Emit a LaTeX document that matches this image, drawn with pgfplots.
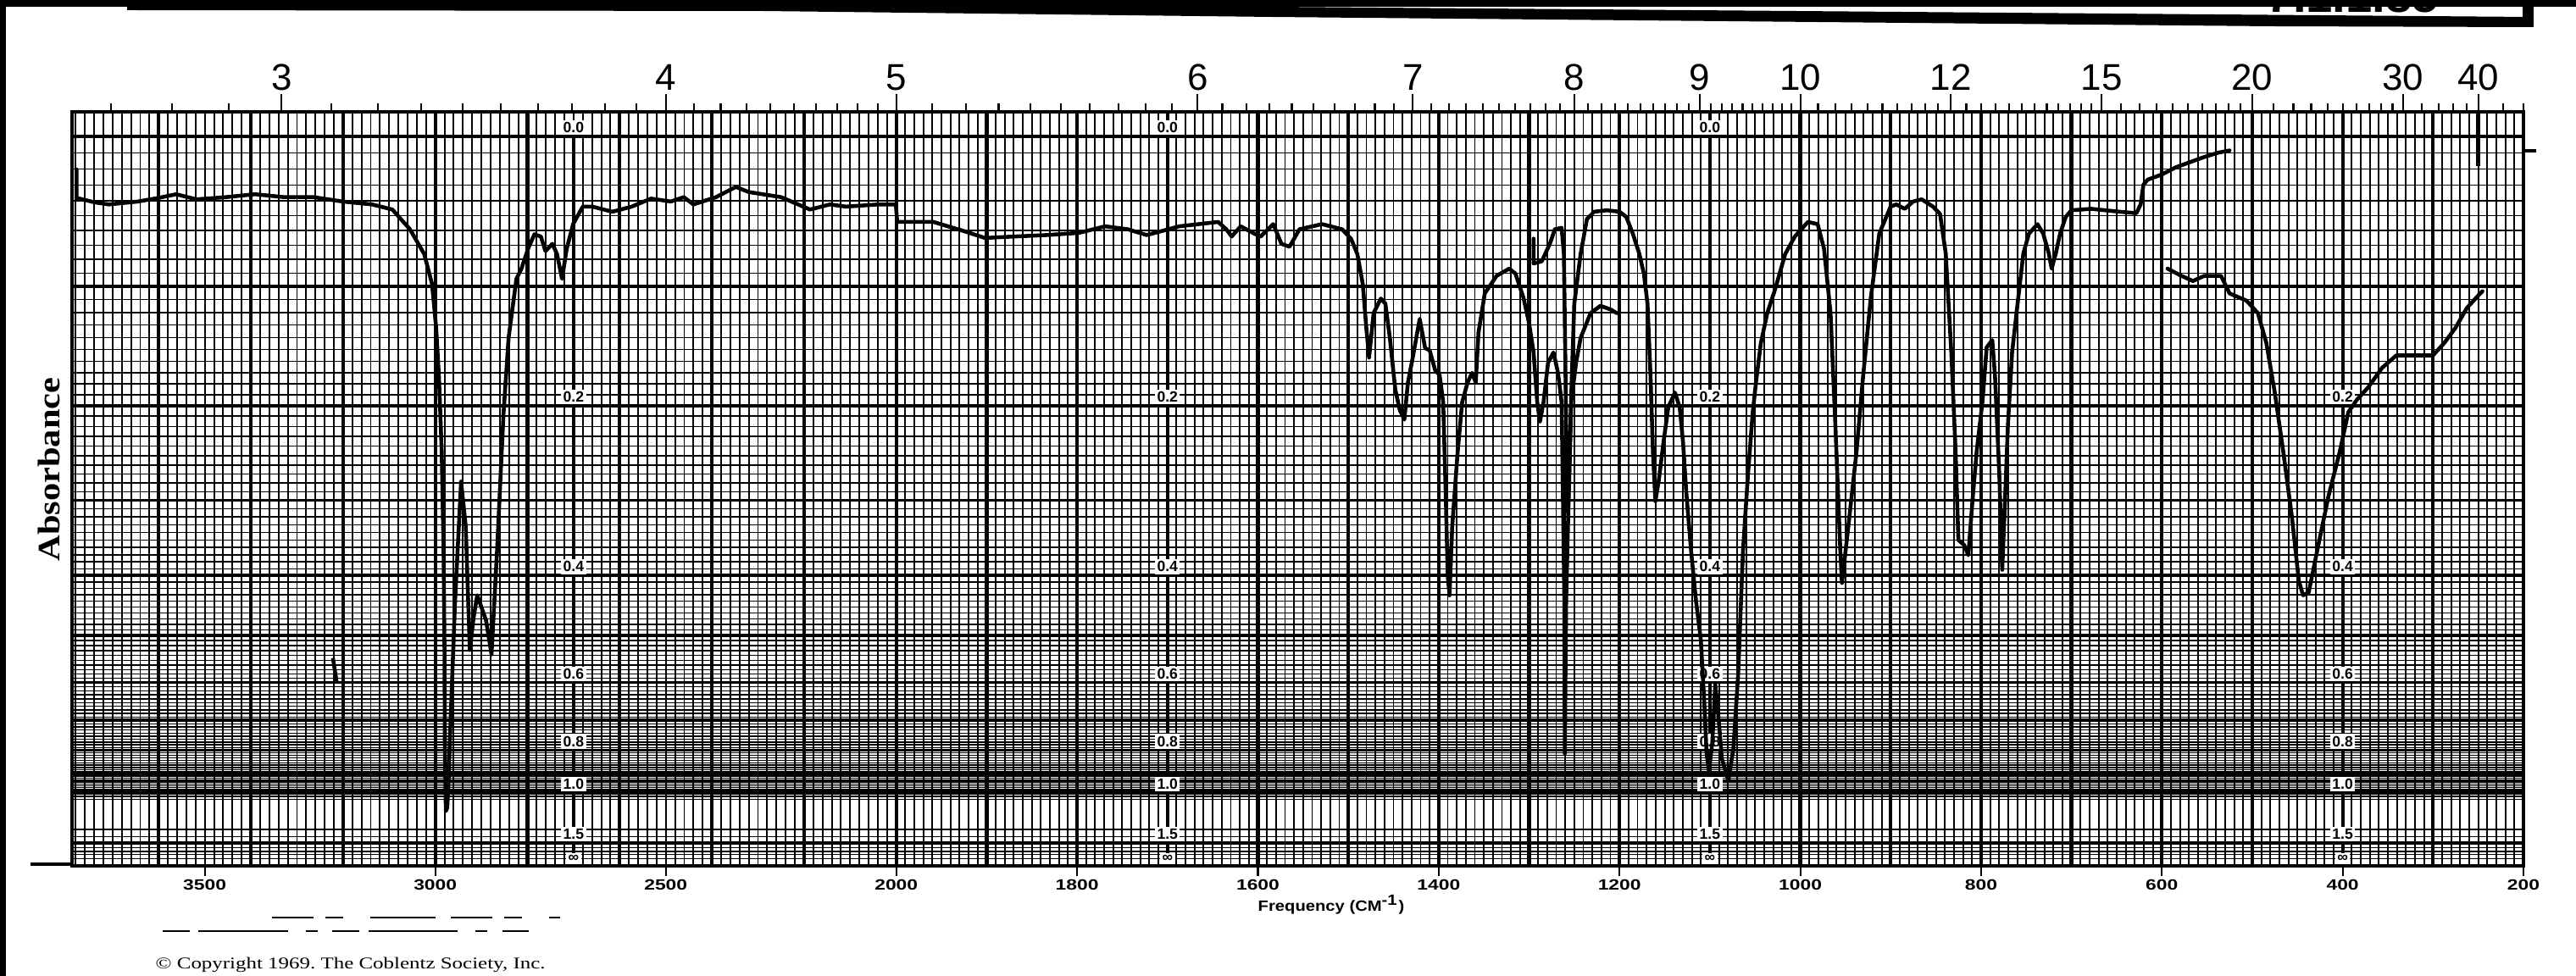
\documentclass[border=0pt]{standalone}
\usepackage{fontspec}
\setmainfont{Liberation Sans}
\newfontfamily\crfont{Liberation Serif}
\usepackage{pgfplots}
\pgfplotsset{compat=1.18}

% wavenumber axis: scale halves above 2000 cm-1
\pgfplotsset{
  irx/.style={
    scale only axis, width=28.93cm, height=8.90cm,
    xmin=200, xmax=3788, ymin=0, ymax=103.4,
    x dir=reverse,
    x coord trafo/.code={\pgfmathparse{(##1>2000)?(2000+0.51*(##1-2000)):(##1)}},
    x coord inv trafo/.code={\pgfmathparse{(##1>2000)?(2000+(##1-2000)/0.51):(##1)}},
  },
}
\tikzset{
  alab/.style={anchor=south, inner sep=0.7pt, yshift=0.3pt, fill=white,
    font=\bfseries\fontsize{5}{5}\selectfont},
}
\newcommand\wl[1]{\scalebox{1.3}[1]{\bfseries\fontsize{5}{6}\selectfont #1}}
% absorbance scale printed on the chart paper
\newcommand\abscol[1]{%
  \node[alab] at (axis cs:#1,63.096) {0.2};
  \node[alab] at (axis cs:#1,39.811) {0.4};
  \node[alab] at (axis cs:#1,25.119) {0.6};
  \node[alab] at (axis cs:#1,15.849) {0.8};
  \node[alab] at (axis cs:#1,10) {1.0};
  \node[alab] at (axis cs:#1,3.1623) {1.5};
  \node[alab] at (axis cs:#1,0) {∞};}

\begin{document}
\begin{tikzpicture}
\begin{axis}[irx,
  axis line style={line width=1.1pt},
  tick align=outside, xtick pos=left, ytick=\empty,
  xtick={3500,3000,2500,2000,1800,1600,1400,1200,1000,800,600,400,200},
  xticklabels={\wl{3500},\wl{3000},\wl{2500},\wl{2000},\wl{1800},\wl{1600},\wl{1400},\wl{1200},\wl{1000},\wl{800},\wl{600},\wl{400},\wl{200}},
  major tick length=0.12cm,
  major tick style={line width=0.6pt, black},
  xticklabel style={inner sep=1pt},
  minor xtick={210,220,...,1990,2000,2020,...,3780},
  minor tick length=0pt,
  xminorgrids,
  minor x grid style={line width=0.55pt, black},
  extra x ticks={3600,3400,...,2200,2000,1900,...,300},
  extra x tick labels={},
  extra x tick style={grid=major, major grid style={line width=1.2pt, black}, major tick length=0pt},
]
% horizontal grid, equal steps of absorbance
\pgfplotsinvokeforeach{1,...,99}{\draw[line width=0.4pt] ({rel axis cs:0,0}|-{axis cs:1000,{100*10^(-#1/100)}}) -- ({rel axis cs:1,0}|-{axis cs:1000,{100*10^(-#1/100)}});}
\pgfplotsinvokeforeach{102,104,130,140,160,170,180,200}{\draw[line width=0.4pt] ({rel axis cs:0,0}|-{axis cs:1000,{100*10^(-#1/100)}}) -- ({rel axis cs:1,0}|-{axis cs:1000,{100*10^(-#1/100)}});}
\pgfplotsinvokeforeach{0,10,...,100,150}{\draw[line width=1pt] ({rel axis cs:0,0}|-{axis cs:1000,{100*10^(-#1/100)}}) -- ({rel axis cs:1,0}|-{axis cs:1000,{100*10^(-#1/100)}});}
\pgfplotsinvokeforeach{2700,1700,1100,400}{\draw[line width=1.2pt] (axis cs:#1,0) -- (axis cs:#1,100);}

\node[alab] at (axis cs:2700,100) {0.0};
\node[alab] at (axis cs:1700,100) {0.0};
\node[alab] at (axis cs:1100,100) {0.0};
\abscol{2700}
\abscol{1700}
\abscol{1100}
\abscol{400}

\addplot[black, line width=1.3pt, line join=round, line cap=round] table[x=nu, y=T] {
nu T
3778 95.5
3778 91.6
3740 91.0
3708 90.7
3645 91.1
3600 91.6
3562 92.1
3518 91.4
3454 91.7
3391 92.1
3328 91.7
3264 91.7
3201 91.1
3137 90.7
3093 90.0
3055 87.3
3024 83.9
3007 79.8
2998 73.7
2992 67.0
2986 56.8
2982 43.2
2980 29.6
2979 15.0
2977 7.5
2974 8.0
2971 12.0
2969 16.1
2957 36.4
2944 52.7
2934 46.6
2925 29.6
2917 34.0
2909 37.1
2890 33.7
2878 29.0
2866 43.2
2852 62.0
2841 72.4
2824 80.5
2813 81.9
2799 84.6
2785 86.6
2771 86.3
2761 84.3
2746 85.3
2736 83.9
2725 80.5
2715 84.6
2701 88.0
2680 90.4
2659 90.4
2616 89.7
2574 90.4
2532 91.5
2489 91.1
2461 91.7
2440 90.7
2391 91.7
2348 93.1
2320 92.4
2250 91.7
2187 90.0
2144 90.7
2109 90.4
2039 90.7
2001 90.7
1999 88.3
1959 88.3
1924 87.0
1902 86.1
1870 86.3
1834 86.5
1798 86.8
1769 87.7
1744 87.3
1723 86.5
1708 87.0
1687 87.7
1644 88.3
1635 87.3
1629 86.3
1619 87.7
1604 86.7
1597 86.3
1583 88.0
1574 85.3
1565 84.9
1554 87.3
1529 88.0
1507 87.3
1497 86.0
1490 83.9
1484 79.8
1480 73.7
1477 69.7
1472 75.8
1464 77.8
1459 77.1
1454 72.4
1448 65.3
1443 62.5
1438 61.2
1434 66.3
1429 69.5
1421 75.0
1415 71.0
1410 70.7
1404 68.0
1399 67.3
1395 63.6
1392 50.0
1390 39.8
1388 37.1
1385 46.6
1379 56.8
1374 63.6
1368 66.3
1363 67.6
1359 66.3
1356 73.1
1349 78.5
1336 80.9
1322 81.9
1315 81.2
1306 77.8
1300 74.4
1295 70.4
1291 63.6
1288 60.9
1284 63.6
1279 69.0
1273 70.4
1268 67.6
1264 63.6
1262.5 50.0
1261 36.4
1260.5 15.4
1259 36.4
1257 46.6
1253.5 63.6
1248 69.0
1243 72.4
1232 75.8
1221 76.8
1210 76.3
1203 75.8
};

\addplot[black, line width=1.3pt, line join=round, line cap=round] table[x=nu, y=T] {
nu T
1295 86.0
1295 82.6
1286 82.9
1277 85.3
1271.5 87.3
1264 87.5
1261.5 83.9
1260 70.4
1258.5 55.0
1257 48.5
1255 56.0
1253 66.0
1250 77.1
1243 83.9
1236 88.7
1228 89.7
1214 89.9
1200 89.7
1192.5 89.0
1185 86.6
1178 83.9
1173 81.2
1169 77.1
1165.6 67.0
1163 56.8
1160.3 50.0
1156.7 52.7
1151.3 58.1
1146 62.9
1138.7 64.9
1133.4 62.9
1129.7 58.1
1126.2 51.4
1120.8 43.2
1115.4 36.4
1110 31.0
1106.4 22.9
1103.6 15.4
1101 13.0
1097.4 16.8
1094 24.9
1090.3 20.1
1086.7 14.7
1079.5 11.7
1074 16.1
1068.7 26.3
1063.4 43.2
1058 53.4
1052.6 62.2
1049 66.3
1043.6 71.7
1036.5 75.8
1027.5 79.2
1016.7 83.9
1006 86.3
991.6 88.3
980.8 88.0
973.7 84.6
966.5 75.8
961.1 60.2
955.7 43.2
953.9 38.8
946.8 46.6
937.8 56.8
930.6 67.0
922 77.9
912.6 86.7
900.1 90.4
893.8 90.7
884.4 90.1
875.1 91.1
865.7 91.4
853.2 90.4
845.4 89.4
839.1 84.0
832.9 70.4
828.2 56.9
825.1 44.7
818.8 44.0
814.1 42.6
809.5 50.1
804.8 56.9
798.5 63.6
793.8 71.1
787.6 72.1
784.5 67.0
779.8 53.5
776.6 40.6
773.5 50.1
770.4 60.2
765.7 70.4
759.5 77.2
753.2 84.0
747 86.7
737.6 88.0
731.3 86.7
725.1 84.0
721.9 81.9
717.3 84.0
712.6 86.7
706.3 89.0
700.1 89.9
678.2 90.1
662.6 89.9
646.9 89.7
628.2 89.5
623.5 90.7
620.4 93.4
615.7 94.1
600.1 94.8
584.5 95.8
568.8 96.5
553.2 97.2
537.6 97.8
525.1 98.1
};

\addplot[black, line width=1.3pt, line join=round, line cap=round] table[x=nu, y=T] {
nu T
593.8 81.9
578.2 80.9
565.7 80.2
553.2 80.9
534.5 80.9
525.1 78.5
506.3 77.5
493.8 75.8
484.4 71.7
475.1 64.9
465.7 56.8
456.3 48.0
448.5 39.1
443.8 37.1
437.6 37.5
428.2 43.2
415.7 50.7
403.2 56.8
393.8 62.2
384.4 63.9
371.9 65.6
356.3 68.3
340.6 70.0
318.8 70.0
300.1 70.0
287.6 71.7
275.1 73.8
262.6 76.5
250.1 78.2
245.4 78.8
};

\draw[line width=1.6pt] (axis cs:250,103.4) -- (axis cs:250,96);
\draw[line width=1.3pt] (axis cs:3222,28.5) -- (axis cs:3214,25.2);
\end{axis}

% wavelength scale, micrometres
\begin{axis}[irx,
  axis x line*=top, axis y line=none, axis line style={draw=none},
  tick align=outside,
  xtick={3333.33,2500,2000,1666.67,1428.57,1250,1111.11,1000,833.33,666.67,500,333.33,250},
  xticklabels={3,4,5,6,7,8,9,10,12,15,20,30,40},
  minor xtick={3703.7,3571.4,3448.3,3225.8,3125,3030.3,2941.2,2857.1,2777.8,2702.7,2631.6,2564.1,2439,2381,2325.6,2272.7,2222.2,2173.9,2127.7,2083.3,2040.8,1960.8,1923.1,1886.8,1851.9,1818.2,1785.7,1754.4,1724.1,1694.9,1639.3,1612.9,1587.3,1562.5,1538.5,1515.2,1492.5,1470.6,1449.3,1408.5,1388.9,1369.9,1351.4,1333.3,1315.8,1298.7,1282.1,1265.8,1234.6,1219.5,1204.8,1190.5,1176.5,1162.8,1149.4,1136.4,1123.6,1098.9,1087,1075.3,1063.8,1052.6,1041.7,1030.9,1020.4,1010.1,980.4,961.5,943.4,925.9,909.1,892.9,877.2,862.1,847.5,816.3,800,784.3,769.2,754.7,740.7,727.3,714.3,701.8,689.7,678,645.2,625,606.1,588.2,571.4,555.6,540.5,526.3,512.8,476.2,454.5,434.8,416.7,400,384.6,370.4,357.1,344.8,312.5,294.1,277.8,263.2,222.2,200},
  major tick length=0.21cm, minor tick length=0.1cm,
  every tick/.style={black, line width=0.6pt},
  xticklabel style={font=\fontsize{12.5}{13}\selectfont, inner sep=1pt},
]
\end{axis}

% scanned sheet: header rule, margins, captions
\node[anchor=base west, inner sep=0, font=\bfseries\fontsize{16}{16}\selectfont] at (25.89,10.07) {7.1.1.85};
\fill (-1,10.14) rectangle (30,10.6);
\fill (0.65,10.14) -- (14.15,10.14) -- (28.98,10.02) -- (28.98,9.90) -- (25.95,9.91) -- (14.15,10.02) -- (8.15,10.09) -- (0.65,10.10) -- cycle;
\fill (28.92,9.90) rectangle (29.05,10.3);
\fill (-1,-1.5) rectangle (-0.78,10.6);
\draw[line width=1.2pt] (-0.49,0.02) -- (0,0.02);
\draw[line width=1.2pt] (28.93,8.44) -- (29.08,8.44);
\draw[line width=0.5pt, dash pattern=on 14pt off 4pt on 6pt off 9pt on 22pt off 5pt] (2.36,-0.61) -- (5.76,-0.61);
\draw[line width=0.4pt, dash pattern=on 9pt off 3pt on 30pt off 6pt on 4pt off 5pt] (1.07,-0.77) -- (5.40,-0.77);
\node[rotate=90] at (-0.27,4.68) {\scalebox{1.15}[1]{\crfont\bfseries\fontsize{10.5}{11}\selectfont Absorbance}};
\node[anchor=west, inner sep=0] at (13.99,-0.46) {\scalebox{1.15}[1]{\bfseries\fontsize{5}{5}\selectfont Frequency (CM\textsuperscript{-1})}};
\node[anchor=west, inner sep=0] at (0.98,-1.17) {\scalebox{1.29}[1]{\crfont\fontsize{5.5}{6}\selectfont © Copyright 1969.\ The Coblentz Society, Inc.}};

\pgfresetboundingbox
\path[use as bounding box] (-0.85,-1.30) rectangle (29.55,10.22);
\end{tikzpicture}
\end{document}
